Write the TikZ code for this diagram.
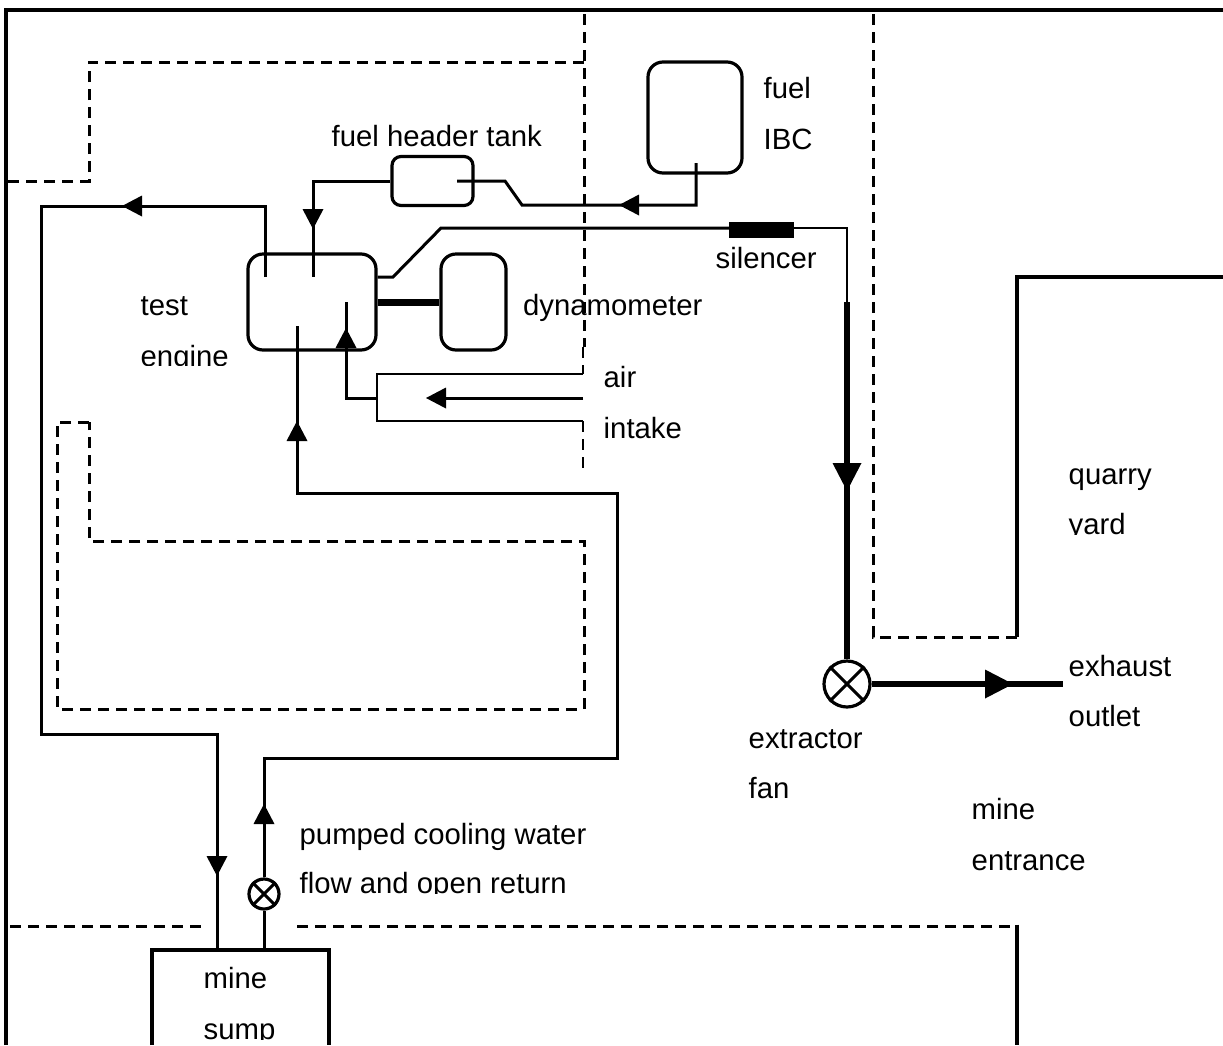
\documentclass[tikz,border=0pt]{standalone}
\usepackage{fontspec}
\setmainfont{Liberation Sans}
\usetikzlibrary{arrows.meta}
\tikzset{
  wall/.style={line width=3.5pt},
  framewall/.style={line width=4.5pt},
  dashwall/.style={line width=3pt,dash pattern=on 11pt off 7pt},
  thindash/.style={line width=1.4pt,dash pattern=on 11pt off 7pt},
  pipe/.style={line width=3pt,line join=miter},
  thinpipe/.style={line width=2pt},
  duct/.style={line width=6pt},
  vessel/.style={draw,line width=3.2pt,rounded corners=15pt,inner sep=0pt},
  rotor/.style={draw,circle,line width=3.2pt,inner sep=0pt,fill=white},
  flowtip/.style={line width=0pt,-{Triangle[length=20pt,width=21pt]}},
  fantip/.style={line width=0pt,-{Triangle[length=28pt,width=29pt]}},
  lbl/.style={anchor=base west,inner sep=0pt,font=\fontsize{29.3}{35}\selectfont}
}
\newcommand{\cutlabel}[4]{%
  \begin{scope}
    \clip (#1,#2-40) rectangle (#1+400,#2+#4);
    \node[lbl] at (#1,#2) {#3};
  \end{scope}}
\begin{document}
\begin{tikzpicture}[x=1pt,y=1pt,yscale=-1,xscale=1]
  \useasboundingbox (0,0) rectangle (1223,1045);
  % site outline
  \draw[framewall] (6,1045) -- (6,10) -- (1223,10);
  \draw[wall] (1017,637) -- (1017,277) -- (1223,277);
  \draw[wall] (1017,924.5) -- (1017,1045);
  % tunnels
  \draw[dashwall] (8,181) -- (89,181) -- (89,62) -- (584,62);
  \draw[dashwall] (584,14) -- (584,347);
  \draw[thindash] (583,347) -- (583,374);
  \draw[thindash] (583,421) -- (583,468);
  \draw[dashwall] (873,14) -- (873,637) -- (1017,637);
  \draw[dashwall] (89,422) -- (57,422) -- (57,709) -- (584,709) -- (584,541) -- (89,541) -- cycle;
  \draw[dashwall] (10,926) -- (202,926);
  \draw[dashwall] (297,926) -- (1017,926);

  % equipment
  \node[vessel,minimum width=128pt,minimum height=96pt] (engine) at (312,302) {};
  \node[vessel,minimum width=65pt,minimum height=96pt] (dyno) at (473.5,302) {};
  \node[vessel,minimum width=81pt,minimum height=49pt,rounded corners=9pt] (headertank) at (432.5,181) {};
  \node[vessel,minimum width=94pt,minimum height=111pt] (ibc) at (695,117.5) {};
  \node[draw,fill=black,minimum width=64pt,minimum height=15pt,inner sep=0pt] (silencer) at (761,230) {};
  \node[rotor,minimum size=46pt] (fan) at (847,684) {};
  \node[rotor,minimum size=30pt] (pump) at (264,894) {};
  \foreach \n in {fan,pump}{
    \draw[pipe] (\n.north west) -- (\n.south east);
    \draw[pipe] (\n.north east) -- (\n.south west);
  }
  \draw[wall] (152,1045) |- (329,950) -- (329,1045);

  % free ends of the pipes
  \coordinate (returnend) at (265,277);
  \coordinate (fuelend) at (313,277);
  \coordinate (tankend) at (457,181);
  \coordinate (ibcend) at (696,163);
  \coordinate (airend) at (346,302);
  \coordinate (coolend) at (297,326);
  \coordinate (airhead) at (377,398);
  \coordinate (airmouth) at (583,398);
  \coordinate (outlet) at (1063,684);

  % water
  \draw[pipe] (returnend) -- (265,206) -- (41,206) -- (41,734) -- (217,734) -- (217,950);
  \draw[pipe] (pump.south) -- (264,950);
  \draw[pipe] (pump.north) -- (264,758) -- (617,758) -- (617,493) -- (297,493) -- (coolend);
  % fuel
  \draw[pipe] (ibcend) -- (696,205) -- (522,205) -- (505,181) -- (tankend);
  \draw[pipe] (headertank.west) -- (313,181) -- (fuelend);
  % exhaust
  \draw[pipe] (engine.east |- returnend) -- (393,277) -- (441,228) -- (silencer.west |- 0,228);
  \draw[thinpipe] (silencer.east |- 0,228) -- (847,228) -- (847,302);
  \draw[duct] (847,302) -- (fan.north);
  \draw[duct] (fan.east) -- (outlet);
  \draw[duct,line width=7pt] (engine.east) -- (dyno.west);
  % air
  \draw[pipe] (airend) -- (346,398) -- (airhead);
  \draw[thinpipe] (airmouth |- 0,374) -- (377,374) -- (377,421) -- (airmouth |- 0,421);
  \draw[pipe] (airmouth) -- (440,398);

  % flow arrows
  \draw[flowtip] (150,206) -- (122,206);
  \draw[flowtip] (217,845) -- (217,876);
  \draw[flowtip] (264,835) -- (264,804);
  \draw[flowtip] (297,450) -- (297,421);
  \draw[flowtip] (313,200) -- (313,229);
  \draw[flowtip] (650,205) -- (619,205);
  \draw[flowtip] (346,360) -- (346,328);
  \draw[flowtip] (455,398) -- (426,398);
  \draw[fantip] (847,450) -- (847,491);
  \draw[fantip] (975,684) -- (1013,684);

  % labels
  \node[lbl] (fuel) at (763.5,98) {fuel};
  \node[lbl] (ibclabel) at (763.5,149) {IBC};
  \node[lbl] (tanklabel) at (331.5,146) {fuel header tank};
  \node[lbl] (silencerlabel) at (715.5,268) {silencer};
  \node[lbl] (dynolabel) at (523,315) {dynamometer};
  \node[lbl] (test) at (140.5,315) {test};
  \cutlabel{140.5}{366}{engine}{-1}
  \node[lbl] (air) at (603.5,387) {air};
  \node[lbl] (intake) at (603.5,438) {intake};
  \node[lbl] (quarry) at (1068.5,484) {quarry};
  \cutlabel{1068.5}{534}{yard}{0}
  \node[lbl] (exhaust) at (1068.5,676) {exhaust};
  \node[lbl] (outletlabel) at (1068.5,726) {outlet};
  \node[lbl] (extractor) at (748.5,748) {extractor};
  \node[lbl] (fanlabel) at (748.5,798) {fan};
  \node[lbl] (mine) at (971.5,819) {mine};
  \node[lbl] (entrance) at (971.5,870) {entrance};
  \node[lbl] (pumped) at (299.5,844) {pumped cooling water};
  \cutlabel{299.5}{893}{flow and open return}{0}
  \node[lbl] (sumpmine) at (203.5,988) {mine};
  \cutlabel{203.5}{1039}{sump}{0}
\end{tikzpicture}
\end{document}
